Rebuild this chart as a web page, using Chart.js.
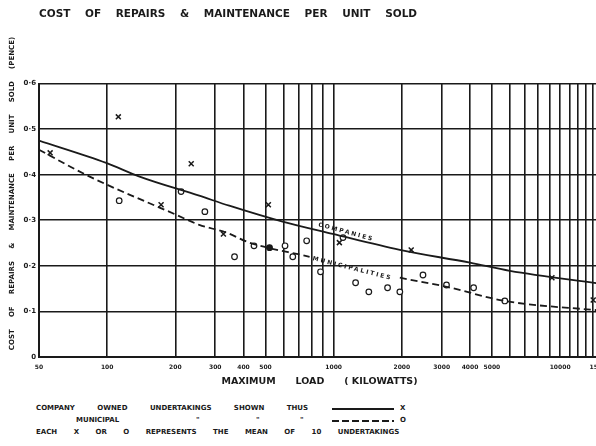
<!DOCTYPE html>
<html>
<head>
<meta charset="utf-8">
<title>Cost of repairs & maintenance per unit sold</title>
<script src="https://cdn.jsdelivr.net/npm/chart.js@4.4.1/dist/chart.umd.min.js"></script>
<style>
  html, body { margin: 0; padding: 0; background: #fff; overflow: hidden; }
  #wrap { position: relative; width: 596px; height: 446px; overflow: hidden; }
  #chart { position: absolute; left: 0; top: 0; }
  .note {
    position: absolute;
    font: bold 7px 'DejaVu Sans', sans-serif;
    color: #1a1a1a;
    white-space: pre;
    line-height: 8px;
  }
  .rule { position: absolute; height: 1.5px; background: #1a1a1a; }
  .rule.dash { background: repeating-linear-gradient(90deg, #1a1a1a 0 7px, transparent 7px 10px); }
</style>
</head>
<body>
<div id="wrap">
  <canvas id="chart" width="620" height="395"></canvas>

  <!-- key underneath the plate -->
  <div class="note" style="left:36px;top:404px;word-spacing:20px">COMPANY OWNED UNDERTAKINGS SHOWN THUS</div>
  <div class="rule" style="left:332px;top:408px;width:62px"></div>
  <div class="note" style="left:400px;top:404px">X</div>

  <div class="note" style="left:76px;top:416px">MUNICIPAL</div>
  <div class="note" style="left:196px;top:416px">"</div>
  <div class="note" style="left:256px;top:416px">"</div>
  <div class="note" style="left:300px;top:416px">"</div>
  <div class="rule dash" style="left:332px;top:420px;width:62px"></div>
  <div class="note" style="left:400px;top:416px">O</div>

  <div class="note" style="left:36px;top:428px;word-spacing:14px">EACH X OR O REPRESENTS THE MEAN OF 10 UNDERTAKINGS</div>
</div>

<script>
// ── Values ───────────────────────────────────────────
// x axis: maximum load (kW), log scale; y axis: pence per unit sold
const loadGrid = [50, 100, 200, 300, 400, 500, 600, 700, 800, 900, 1000,
                  2000, 3000, 4000, 5000, 6000, 7000, 8000, 9000, 10000,
                  11000, 12000, 13000, 14000, 15000];
const loadLabels = [50, 100, 200, 300, 400, 500, 1000, 2000, 3000, 4000, 5000, 10000, 15000];
const costTicks = [0, 0.1, 0.2, 0.3, 0.4, 0.5, 0.6];

// company owned undertakings (X marks)
const companyLoad = [56, 112, 173, 235, 326, 515, 1060, 2200, 9200, 14000];
const companyCost = [0.448, 0.527, 0.334, 0.424, 0.270, 0.334, 0.251, 0.235, 0.174, 0.125];

// municipal undertakings (O marks)
const municipalLoad = [113, 212, 270, 365, 445, 521, 610, 660, 760, 875,
                       1100, 1250, 1430, 1730, 1960, 2480, 3150, 4150, 5700];
const municipalCost = [0.343, 0.363, 0.319, 0.220, 0.244, 0.240, 0.244, 0.220, 0.255, 0.187,
                       0.262, 0.163, 0.143, 0.152, 0.143, 0.180, 0.158, 0.152, 0.123];
const municipalSolid = [521]; // the one mark inked in solid

// the two drawn trend curves
const companyCurveLoad = [50, 99, 139, 255, 346, 595, 990, 1960, 4000, 6000, 15000];
const companyCurveCost = [0.475, 0.426, 0.396, 0.354, 0.332, 0.297, 0.270, 0.235, 0.207, 0.189, 0.161];

const municipalCurveLoad = [50, 82, 202, 255, 336, 425, 783, 1176, 1960, 3160, 5700, 15000];
const municipalCurveCost = [0.455, 0.398, 0.312, 0.290, 0.273, 0.251, 0.220, 0.198, 0.174, 0.154, 0.123, 0.102];

// ── Look ─────────────────────────────────────────────
const INK  = '#1a1a1a';
const FONT = "'DejaVu Sans', sans-serif";

function zip(xs, ys) {
  return xs.map((x, i) => ({ x: x, y: ys[i] }));
}

function fmtCost(v) {
  return v === 0 ? '0' : v.toFixed(1).replace('.', '·');
}

// ── Lettering written along the two curves ──────────
const curveLabels = {
  id: 'curveLabels',
  afterDatasetsDraw(chart) {
    const { ctx, scales: { x, y } } = chart;
    const items = [
      { text: 'COMPANIES',      load: 850, cost: 0.284, angle: 15, base: 'bottom' },
      { text: 'MUNICIPALITIES', load: 808, cost: 0.216, angle: 14, base: 'middle' },
    ];
    ctx.save();
    ctx.font = 'bold 6px ' + FONT;
    ctx.letterSpacing = '2px';
    ctx.fillStyle = INK;
    items.forEach(it => {
      ctx.save();
      ctx.translate(x.getPixelForValue(it.load), y.getPixelForValue(it.cost));
      ctx.rotate(it.angle * Math.PI / 180);
      ctx.textBaseline = it.base;
      ctx.fillText(it.text, 0, 0);
      ctx.restore();
    });
    ctx.restore();
  }
};

new Chart(document.getElementById('chart'), {
  type: 'scatter',
  data: {
    datasets: [
      {
        type: 'line',
        label: 'Companies',
        data: zip(companyCurveLoad, companyCurveCost),
        borderColor: INK,
        borderWidth: 1.8,
        pointRadius: 0,
        cubicInterpolationMode: 'monotone',
        fill: false,
      },
      {
        type: 'line',
        label: 'Municipalities',
        data: zip(municipalCurveLoad, municipalCurveCost),
        borderColor: INK,
        borderWidth: 1.8,
        borderDash: [7, 4],
        pointRadius: 0,
        cubicInterpolationMode: 'monotone',
        fill: false,
        // the lettering takes the place of the line here
        segment: {
          borderColor: c => (c.p0.parsed.x >= 783 && c.p1.parsed.x <= 1960) ? 'rgba(0,0,0,0)' : INK,
        },
      },
      {
        label: 'Company owned undertakings',
        data: zip(companyLoad, companyCost),
        pointStyle: 'crossRot',
        pointRadius: 3.5,
        borderColor: INK,
        backgroundColor: INK,
        borderWidth: 1.5,
      },
      {
        label: 'Municipal undertakings',
        data: zip(municipalLoad, municipalCost),
        pointStyle: 'circle',
        pointRadius: 2.8,
        borderColor: INK,
        borderWidth: 1.2,
        pointBackgroundColor: municipalLoad.map(v => municipalSolid.includes(v) ? INK : '#fff'),
      },
    ],
  },
  options: {
    responsive: false,
    animation: false,
    devicePixelRatio: 1,
    layout: { padding: { left: 0, right: 20, top: 0, bottom: 0 } },
    plugins: {
      legend: { display: false },
      tooltip: { enabled: false },
      title: {
        display: true,
        text: 'COST    OF    REPAIRS    &    MAINTENANCE    PER    UNIT    SOLD',
        align: 'start',
        fullSize: false,
        color: INK,
        font: { family: FONT, size: 10.5, weight: 'bold' },
        padding: { top: 8, bottom: 63 },
      },
    },
    scales: {
      x: {
        type: 'logarithmic',
        min: 50,
        max: 15000,
        afterBuildTicks: s => { s.ticks = loadGrid.map(v => ({ value: v })); },
        afterFit: s => { s.height = 38; },
        ticks: {
          autoSkip: false,
          maxRotation: 0,
          padding: 7,
          color: INK,
          font: { family: FONT, size: 6, weight: 'bold' },
          callback: v => loadLabels.includes(v) ? String(v) : '',
        },
        grid: { color: INK, lineWidth: 1.6, drawTicks: false },
        border: { color: INK, width: 2 },
        title: {
          display: true,
          text: 'MAXIMUM      LOAD      ( KILOWATTS)',
          color: INK,
          font: { family: FONT, size: 9.5, weight: 'bold' },
          padding: { top: 0, bottom: 8 },
        },
      },
      y: {
        min: 0,
        max: 0.6,
        afterBuildTicks: s => { s.ticks = costTicks.map(v => ({ value: v })); },
        afterFit: s => { s.width = 39; },
        ticks: {
          padding: 3,
          color: INK,
          font: { family: FONT, size: 7, weight: 'bold' },
          callback: v => fmtCost(v),
        },
        grid: { color: INK, lineWidth: 1.6, drawTicks: false },
        border: { color: INK, width: 2 },
        title: {
          display: true,
          text: ' '.repeat(22) + 'COST     OF     REPAIRS     &     MAINTENANCE     PER     UNIT     SOLD     (PENCE)',
          color: INK,
          font: { family: FONT, size: 7, weight: 'bold' },
          padding: { top: 8, bottom: 0 },
        },
      },
    },
  },
  plugins: [curveLabels],
});
</script>
</body>
</html>
